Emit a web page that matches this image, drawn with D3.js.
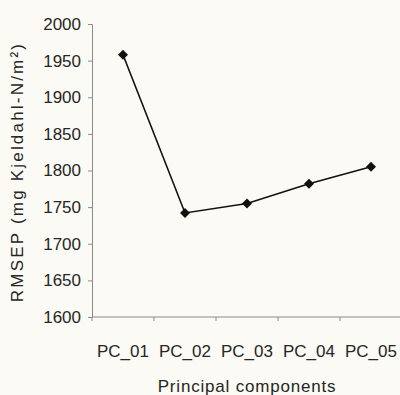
<!DOCTYPE html>
<html><head><meta charset="utf-8">
<script src="https://cdn.jsdelivr.net/npm/d3@7"></script>
<style>body{margin:0;background:#fbfaf4;}svg{display:block;}</style>
</head><body>
<script>
const categories = ["PC_01","PC_02","PC_03","PC_04","PC_05"];
const rmsep = [1958, 1742, 1755, 1782, 1805];
const yTicks = [1600,1650,1700,1750,1800,1850,1900,1950,2000];
const xTitle = "Principal components";
const yTitle = "RMSEP (mg Kjeldahl-N/m²)";

(function(){
const W = 400, H = 395;
const svg = d3.select("body").append("svg").attr("width", W).attr("height", H)
  .style("font-family", "'Liberation Sans', Arial, sans-serif");
svg.append("rect").attr("width", W).attr("height", H).attr("fill", "#fbfaf4");

const mLeft = 92, mRight = 402, mTop = 24, mBottom = 317;
const x = d3.scaleBand().domain(categories).range([mLeft, mRight]);
const y = d3.scaleLinear().domain([1600, 2000]).range([mBottom, mTop]);

const axisColor = "#8a8a8a", textColor = "#262626";

// Y axis
const ya = svg.append("g").attr("transform", `translate(${mLeft},0)`)
  .call(d3.axisLeft(y).tickValues(yTicks).tickSize(4).tickPadding(7).tickFormat(d3.format("d")));
ya.select(".domain").attr("stroke", axisColor);
ya.selectAll(".tick line").attr("stroke", axisColor);
ya.selectAll("text").attr("fill", textColor).style("font-size", "17px");

// X axis with ticks between categories
const xa = svg.append("g").attr("transform", `translate(0,${mBottom})`);
xa.append("line").attr("x1", mLeft).attr("x2", mRight).attr("stroke", axisColor);
const bounds = categories.map(c => x(c)).concat([mRight]);
xa.selectAll("line.tk").data(bounds).join("line").attr("class","tk")
  .attr("x1", d => d).attr("x2", d => d).attr("y1", 0).attr("y2", 4).attr("stroke", axisColor);
xa.selectAll("text").data(categories).join("text")
  .attr("x", d => x(d) + x.bandwidth()/2).attr("y", 40)
  .attr("text-anchor", "middle").attr("fill", textColor).style("font-size", "17px").text(d => d);

// Titles
svg.append("text").attr("x", 247).attr("y", 392).attr("text-anchor", "middle")
  .attr("fill", textColor).style("font-size", "17px").style("letter-spacing", "0.8px").text(xTitle);
svg.append("text").attr("transform", `translate(23,172) rotate(-90)`)
  .attr("text-anchor", "middle").attr("fill", textColor).style("font-size", "17px")
  .style("letter-spacing", "2.2px").text(yTitle);

// Line
const cx = d => x(d) + x.bandwidth()/2;
const line = d3.line().x((d,i) => cx(categories[i])).y(d => y(d));
svg.append("path").datum(rmsep).attr("d", line).attr("fill", "none").attr("stroke", "#111").attr("stroke-width", 1.6);
svg.selectAll("path.m").data(rmsep).join("path").attr("class","m")
  .attr("transform", (d,i) => `translate(${cx(categories[i])},${y(d)}) rotate(45)`)
  .attr("d", d3.symbol().type(d3.symbolSquare).size(50)).attr("fill", "#111");
})();
</script>
</body></html>
